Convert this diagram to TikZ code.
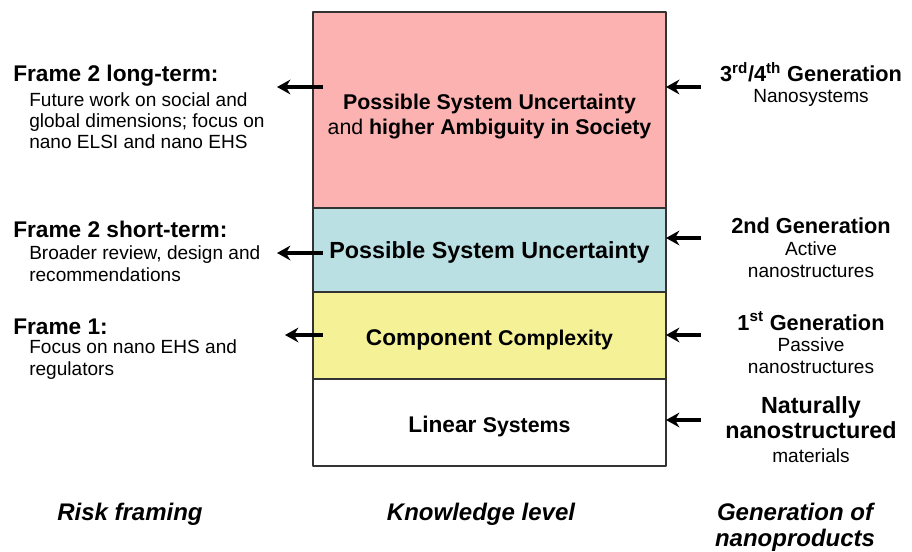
\documentclass[tikz,border=0pt]{standalone}
\usepackage{fontspec}
\setmainfont{Liberation Sans}
\usetikzlibrary{arrows.meta}
\definecolor{riskpink}{HTML}{FDB2B2}
\definecolor{riskcyan}{HTML}{BBE0E3}
\definecolor{riskyellow}{HTML}{F5F197}
\tikzset{
  layer/.style={draw=black!80, line width=1pt},
  boxtxt/.style={inner sep=0pt, anchor=base, align=center},
  framehead/.style={inner sep=0pt, anchor=base west, font=\fontsize{17}{19}\selectfont\bfseries},
  framesub/.style={inner sep=0pt, anchor=base west, align=left, font=\fontsize{14.3}{15.8}\selectfont},
  genhead/.style={inner sep=0pt, anchor=base, align=center, font=\fontsize{16.3}{18.7}\selectfont\bfseries},
  gensub/.style={inner sep=0pt, anchor=base, align=center, font=\fontsize{14.3}{16.3}\selectfont},
  axislabel/.style={inner sep=0pt, anchor=base, align=center, font=\fontsize{18}{19.5}\selectfont\bfseries\itshape},
  arr/.style={-{Stealth[length=10pt,width=11pt]}, line width=3pt}
}
\begin{document}
\begin{tikzpicture}[x=0.75pt, y=-0.75pt, line join=round]
\useasboundingbox (0,0) rectangle (912,552);
% knowledge levels
\draw[layer, fill=riskpink] (313,12) rectangle (666,208);
\draw[layer, fill=riskcyan] (313,208) rectangle (666,292);
\draw[layer, fill=white] (313,379) rectangle (666,466);
\draw[layer, fill=riskyellow] (313,292) rectangle (666,379);
\node[boxtxt, font=\fontsize{16}{18.75}\selectfont] (ambig) at (489.5,135)
  {\textbf{Possible System Uncertainty}\\and \textbf{higher Ambiguity in Society}};
\node[boxtxt, font=\fontsize{17.5}{20}\selectfont\bfseries] (uncert) at (489.5,258) {Possible System Uncertainty};
\node[boxtxt, font=\fontsize{17}{20}\selectfont\bfseries] (compl) at (489.5,345)
  {Component {\fontsize{16}{20}\selectfont Complexity}};
\node[boxtxt, font=\fontsize{17}{20}\selectfont\bfseries] (linear) at (489.5,432)
  {Linear {\fontsize{16}{20}\selectfont Systems}};
% risk framing
\node[framehead] (fr2l) at (13,82) {Frame 2 long-term:};
\node[framesub] (fr2ltxt) at (29,149) {Future work on social and\\global dimensions; focus on\\nano ELSI and nano EHS};
\node[framehead] (fr2s) at (13,237) {Frame 2 short-term:};
\node[framesub] (fr2stxt) at (29,281) {Broader review, design and\\recommendations};
\node[framehead] (fr1) at (13,334) {Frame 1:};
\node[framesub] (fr1txt) at (29,375) {Focus on nano EHS and\\regulators};
% generations
\node[genhead] (gen3) at (811,82) {3\textsuperscript{rd}/4\textsuperscript{th} Generation};
\node[gensub] (gen3txt) at (811,103) {Nanosystems};
\node[genhead] (gen2) at (811,233) {2nd Generation};
\node[gensub] (gen2txt) at (811,277) {Active\\nanostructures};
\node[genhead] (gen1) at (811,330) {1\textsuperscript{st} Generation};
\node[gensub] (gen1txt) at (811,373) {Passive\\nanostructures};
\node[genhead, font=\fontsize{17.5}{18.75}\selectfont\bfseries] (gen0) at (811,438) {Naturally\\nanostructured};
\node[gensub] (gen0txt) at (811,462) {materials};
% arrows
\coordinate (a3) at (323,87);  \coordinate (a3tip) at (277,87);
\coordinate (a2) at (323,253); \coordinate (a2tip) at (277,253);
\coordinate (a1) at (323,335); \coordinate (a1tip) at (285,335);
\coordinate (g3) at (701,87);  \coordinate (g3tip) at (666,87);
\coordinate (g2) at (701,238); \coordinate (g2tip) at (666,238);
\coordinate (g1) at (701,335); \coordinate (g1tip) at (666,335);
\coordinate (g0) at (701,420); \coordinate (g0tip) at (666,420);
\foreach \s in {a3,a2,a1,g3,g2,g1,g0}
  \draw[arr] (\s) -- (\s tip);
% column labels
\node[axislabel] (riskl) at (130,520) {Risk framing};
\node[axislabel] (knowl) at (481,520) {Knowledge level};
\node[axislabel] (genl) at (795,546) {Generation of\\nanoproducts};
\end{tikzpicture}
\end{document}
